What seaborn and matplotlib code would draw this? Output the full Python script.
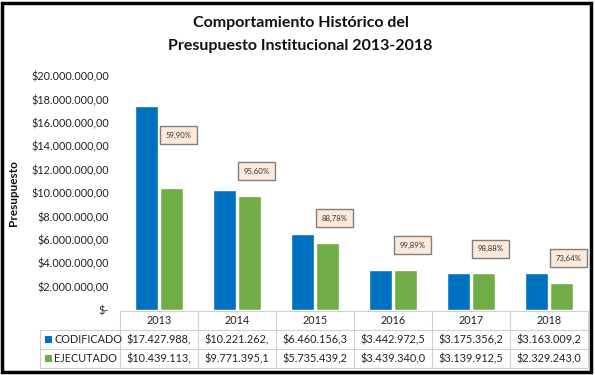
import matplotlib
matplotlib.use("Agg")
import matplotlib.pyplot as plt
import matplotlib.patches as mpatches
import matplotlib.transforms as mtransforms
import pandas as pd
import seaborn as sns

# Data
years = ["2013", "2014", "2015", "2016", "2017", "2018"]
codificado = [17427988.00, 10221262.00, 6460156.30, 3442972.50, 3175356.20, 3163009.20]
ejecutado = [10439113.00, 9771395.10, 5735439.20, 3439340.00, 3139912.50, 2329243.00]
series_names = ["CODIFICADO", "EJECUTADO"]
y_ticks = [0, 2e6, 4e6, 6e6, 8e6, 10e6, 12e6, 14e6, 16e6, 18e6, 20e6]

BLUE = "#0070C0"
GREEN = "#70AD47"
GRID = "#D0D0D0"
FONT = ["Lato", "DejaVu Sans"]


def money(v):
    # Spanish style: thousands with '.', decimals with ','
    s = f"{v:,.2f}".replace(",", "X").replace(".", ",").replace("X", ".")
    return "$" + s


def money_cell(v):
    # the table cells in the source are too narrow and clip the text
    return money(v)[:12]


sns.set_theme(style="white")
plt.rcParams["font.family"] = FONT

W, H = 595, 375
fig = plt.figure(figsize=(W / 100, H / 100), dpi=100)
ax = fig.add_axes([120 / W, 1 - 310 / H, 468 / W, 234 / H])

df = pd.DataFrame({
    "Año": years * 2,
    "Serie": [series_names[0]] * len(years) + [series_names[1]] * len(years),
    "Valor": codificado + ejecutado,
})

sns.barplot(data=df, x="Año", y="Valor", hue="Serie", palette=[BLUE, GREEN],
            width=0.66, gap=0.1, ax=ax, legend=False, saturation=1)

ax.set_xlim(-0.5, len(years) - 0.5)
ax.set_ylim(0, 20e6)
ax.set_yticks(y_ticks)
ax.set_yticklabels(["$-"] + [money(v) for v in y_ticks[1:]], fontsize=7.8, color="#222222")
ax.tick_params(axis="y", length=0, pad=8)
ax.set_xticks([])
ax.set_xlabel("")
ax.set_ylabel("Presupuesto", fontsize=8.5, fontweight="bold", color="#111111")
ax.yaxis.set_label_coords(-0.215, 0.5)
for sp in ax.spines.values():
    sp.set_visible(False)
ax.grid(False)

# percentage boxes (executed / budgeted)
for i, (c, e) in enumerate(zip(codificado, ejecutado)):
    pct = f"{e / c * 100:.2f}%".replace(".", ",")
    label_y = e + (4.5e6 if i == 0 else 2.1e6)
    ax.text(i + 0.25, label_y, pct, ha="center", va="center", fontsize=5.6, color="#333333",
            bbox=dict(boxstyle="square,pad=0.7", facecolor="#FDE9D9", edgecolor="#7F7F7F", lw=1.0))

# data table under the axis
trans = mtransforms.blended_transform_factory(ax.transData, ax.transAxes)
row_h = 19 / 234
rows_top = [-1 / 234, -1 / 234 - row_h, -1 / 234 - 2 * row_h]
label_left = -0.5 - 80 / 78

def hline(x0, x1, y):
    ax.plot([x0, x1], [y, y], color=GRID, lw=0.8, transform=trans, clip_on=False)

def vline(x, y0, y1):
    ax.plot([x, x], [y0, y1], color=GRID, lw=0.8, transform=trans, clip_on=False)

bottom = rows_top[2] - row_h
hline(-0.5, len(years) - 0.5, rows_top[0])
hline(label_left, len(years) - 0.5, rows_top[1])
hline(label_left, len(years) - 0.5, rows_top[2])
hline(label_left, len(years) - 0.5, bottom)
vline(label_left, rows_top[1], bottom)
for i in range(len(years) + 1):
    vline(i - 0.5, rows_top[0], bottom)

for i, y in enumerate(years):
    ax.text(i, rows_top[0] - row_h / 2, y, ha="center", va="center", fontsize=7.8,
            color="#222222", transform=trans)
    ax.text(i, rows_top[1] - row_h / 2, money_cell(codificado[i]), ha="center", va="center",
            fontsize=7.8, color="#222222", transform=trans)
    ax.text(i, rows_top[2] - row_h / 2, money_cell(ejecutado[i]), ha="center", va="center",
            fontsize=7.8, color="#222222", transform=trans)

for k, (name, col) in enumerate(zip(series_names, [BLUE, GREEN])):
    yc = rows_top[k + 1] - row_h / 2
    sq = mpatches.Rectangle((label_left + 5 / 78, yc - 3.5 / 234), 7 / 78, 7 / 234,
                            facecolor=col, edgecolor="none", transform=trans, clip_on=False)
    ax.add_patch(sq)
    ax.text(label_left + 14 / 78, yc, name, ha="left", va="center", fontsize=7.8,
            color="#222222", transform=trans)

fig.text(0.505, 1 - 23 / H, "Comportamiento Histórico del", ha="center", va="center",
         fontsize=11.5, fontweight="bold", color="#111111")
fig.text(0.505, 1 - 46 / H, "Presupuesto Institucional 2013-2018", ha="center", va="center",
         fontsize=11.5, fontweight="bold", color="#111111")

# black frame round the whole picture
fig.add_artist(mpatches.Rectangle((2 / W, 3 / H), 589 / W, 369 / H, transform=fig.transFigure,
                                  fill=False, edgecolor="black", lw=2.5))

fig.savefig("out.png", dpi=100)
